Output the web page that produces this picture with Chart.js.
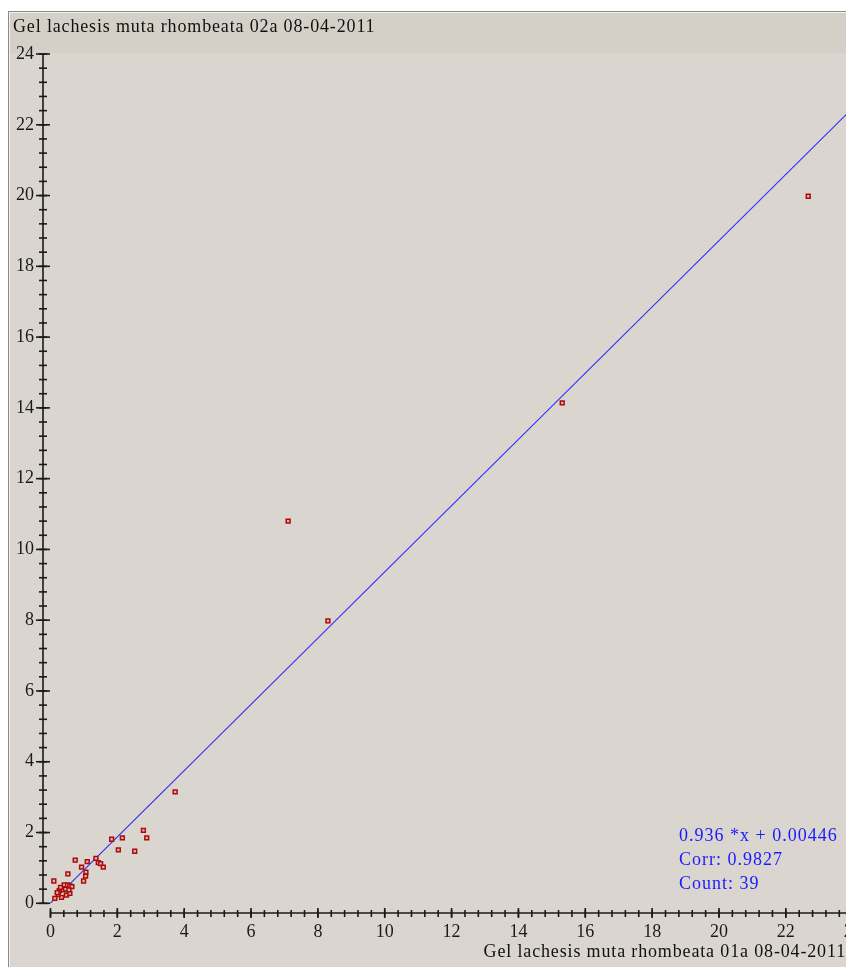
<!DOCTYPE html>
<html>
<head>
<meta charset="utf-8">
<script src="https://cdn.jsdelivr.net/npm/chart.js@4.4.1/dist/chart.umd.min.js"></script>
<style>
  html, body { margin: 0; padding: 0; background: #ffffff; overflow: hidden; }
  #wrap { position: relative; width: 846px; height: 967px; overflow: hidden; }
  #frame { position: absolute; left: 8px; top: 11px; right: 0; bottom: 0;
           border-top: 1px solid #8a8a8a; border-left: 1px solid #8a8a8a; background: #dad6cf; }
  #frame2 { position: absolute; left: 9px; top: 12px; right: 0; bottom: 0;
           border-top: 1px solid #f2f2f2; border-left: 1px solid #f2f2f2; }
  #band { position: absolute; left: 10px; top: 13px; right: 0; height: 40px; background: #d4d0c8; }
  canvas { position: absolute; left: 0; top: 0; }
  .txt { position: absolute; font-family: "Liberation Serif", "DejaVu Serif", serif; color: #111; white-space: nowrap; }
  #ytitle { left: 13px; top: 16px; font-size: 18px; letter-spacing: 0.85px; }
  #xtitle { right: 0px; top: 941px; font-size: 18px; letter-spacing: 0.85px; }
  #stats { left: 679px; top: 823px; font-size: 18px; color: #1a1aff; line-height: 24px; letter-spacing: 1px; }
</style>
</head>
<body>
<div id="wrap">
  <div id="frame"></div>
  <div id="frame2"></div>
  <div id="band"></div>
  <canvas id="c" width="846" height="967"></canvas>
  <div class="txt" id="ytitle">Gel lachesis muta rhombeata 02a 08-04-2011</div>
  <div class="txt" id="xtitle">Gel lachesis muta rhombeata 01a 08-04-2011</div>
  <div class="txt" id="stats">0.936 *x + 0.00446<br>Corr: 0.9827<br>Count: 39</div>
</div>
<script>
// ---- data ----
const xValues = [22.67, 15.31, 7.11, 8.30, 3.73,
                 2.78, 2.88, 1.83, 2.15, 2.03, 2.52,
                 0.74, 1.10, 0.93, 1.06, 1.05, 0.99, 1.36, 1.43, 1.50, 1.58, 0.52, 0.10,
                 0.13, 0.26, 0.33, 0.41, 0.51, 0.58, 0.64, 0.48, 0.33, 0.58, 0.23, 0.38, 0.20, 0.45, 0.55, 0.30];
const yValues = [19.98, 14.14, 10.80, 7.98, 3.15,
                 2.06, 1.85, 1.81, 1.85, 1.51, 1.47,
                 1.22, 1.18, 1.02, 0.88, 0.77, 0.63, 1.27, 1.15, 1.12, 1.02, 0.83, 0.63,
                 0.14, 0.36, 0.42, 0.52, 0.52, 0.49, 0.47, 0.23, 0.17, 0.28, 0.25, 0.38, 0.30, 0.40, 0.38, 0.45];
const fitX = [0, 24];
const fitY = [0.0045, 22.47];
const xMajorTicks = [0, 2, 4, 6, 8, 10, 12, 14, 16, 18, 20, 22, 24];
const yMajorTicks = [0, 2, 4, 6, 8, 10, 12, 14, 16, 18, 20, 22, 24];
const minorStep = 0.4;

const points = xValues.map((x, i) => ({ x: x, y: yValues[i] }));
const fitLine = fitX.map((x, i) => ({ x: x, y: fitY[i] }));

const axesPlugin = {
  id: 'customAxes',
  afterDraw(chart) {
    const ctx = chart.ctx;
    const xs = chart.scales.x, ys = chart.scales.y;
    const ax = chart.chartArea.left;     // y-axis line position
    const ay = chart.chartArea.bottom;   // x-axis line position
    ctx.save();
    ctx.strokeStyle = '#1a1a1a';
    ctx.fillStyle = '#1a1a1a';
    ctx.lineWidth = 1.6;
    // y axis
    const y0 = ys.getPixelForValue(0), y24 = ys.getPixelForValue(24);
    ctx.beginPath(); ctx.moveTo(ax, y24); ctx.lineTo(ax, y0); ctx.stroke();
    for (let v = 0; v <= 24.001; v += minorStep) {
      const py = ys.getPixelForValue(v);
      ctx.beginPath(); ctx.moveTo(ax - 4, py); ctx.lineTo(ax + 4, py); ctx.stroke();
    }
    ctx.font = '18px "Liberation Serif", serif';
    ctx.textAlign = 'right'; ctx.textBaseline = 'middle';
    yMajorTicks.forEach(v => {
      const py = ys.getPixelForValue(v);
      ctx.beginPath(); ctx.moveTo(ax - 7, py); ctx.lineTo(ax + 7, py); ctx.stroke();
      ctx.fillText(String(v), ax - 9, py);
    });
    // x axis
    const x0 = xs.getPixelForValue(0), x24 = xs.getPixelForValue(24);
    ctx.beginPath(); ctx.moveTo(x0, ay); ctx.lineTo(x24, ay); ctx.stroke();
    for (let v = 0; v <= 24.001; v += minorStep) {
      const px = xs.getPixelForValue(v);
      ctx.beginPath(); ctx.moveTo(px, ay - 3); ctx.lineTo(px, ay + 4); ctx.stroke();
    }
    ctx.textAlign = 'center'; ctx.textBaseline = 'top';
    xMajorTicks.forEach(v => {
      const px = xs.getPixelForValue(v);
      ctx.beginPath(); ctx.moveTo(px, ay - 5); ctx.lineTo(px, ay + 5); ctx.stroke();
      ctx.fillText(String(v), px, ay + 10);
    });
    ctx.restore();
  }
};

new Chart(document.getElementById('c'), {
  type: 'scatter',
  data: {
    datasets: [
      {
        data: points,
        pointStyle: 'rect',
        pointRadius: 2.7,
        borderWidth: 1.5,
        borderColor: '#a80c0c',
        backgroundColor: '#e6b3b0',
        order: 0
      },
      {
        type: 'line',
        data: fitLine,
        borderColor: '#3030ff',
        borderWidth: 1.2,
        pointRadius: 0,
        fill: false,
        order: 1
      }
    ]
  },
  options: {
    responsive: false,
    animation: false,
    devicePixelRatio: 1,
    layout: { autoPadding: false, padding: { left: 43, top: 54, right: 0, bottom: 54 } },
    plugins: { legend: { display: false }, tooltip: { enabled: false } },
    scales: {
      x: { type: 'linear', min: -0.224, max: 23.8, display: false },
      y: { type: 'linear', min: -0.274, max: 24, display: false }
    }
  },
  plugins: [axesPlugin]
});
</script>
</body>
</html>
